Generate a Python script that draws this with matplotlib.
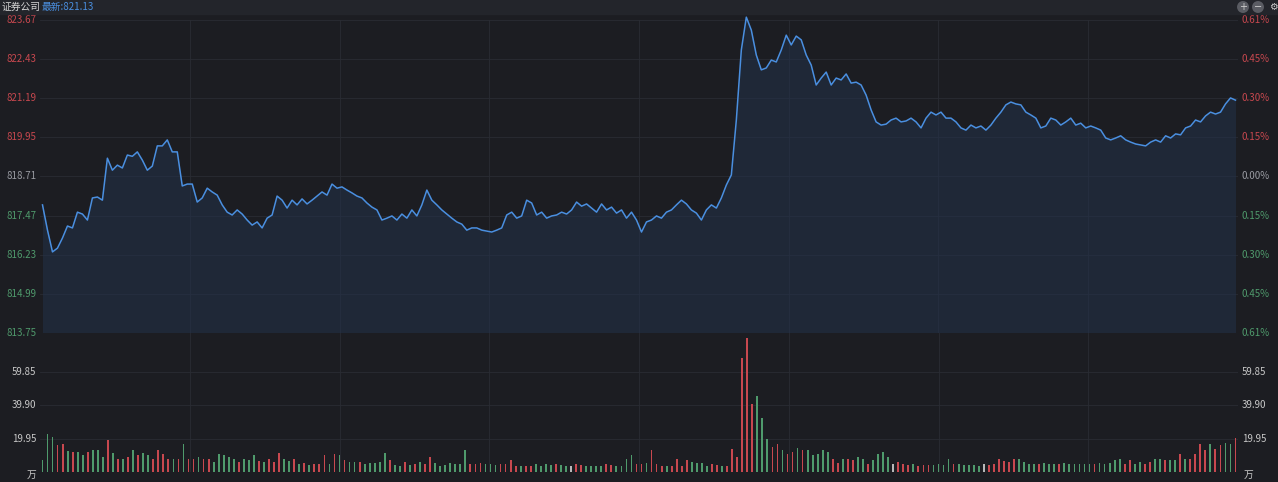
import numpy as np
import matplotlib
matplotlib.use('Agg')
import matplotlib.pyplot as plt

plt.rcParams['font.family'] = ['Noto Sans CJK SC', 'DejaVu Sans']

# ─── data ───
title = '证券公司'
latest = '最新:821.13'
prev_close = 818.71
price_ticks = [823.67, 822.43, 821.19, 819.95, 818.71, 817.47, 816.23, 814.99, 813.75]
pct_labels = ['0.61%', '0.45%', '0.30%', '0.15%', '0.00%', '0.15%', '0.30%', '0.45%', '0.61%']
vol_ticks = [19.95, 39.90, 59.85]

price = [
    817.81, 817.01, 816.32, 816.44, 816.76, 817.14, 817.08, 817.58, 817.52, 817.33,
    818.03, 818.06, 817.96, 819.29, 818.91, 819.07, 818.98, 819.39, 819.35, 819.49,
    819.23, 818.91, 819.04, 819.68, 819.68, 819.87, 819.49, 819.49, 818.41, 818.47,
    818.47, 817.90, 818.03, 818.34, 818.22, 818.12, 817.81, 817.58, 817.49, 817.65,
    817.52, 817.33, 817.17, 817.27, 817.08, 817.39, 817.49, 818.09, 817.96, 817.71,
    817.96, 817.81, 818.00, 817.84, 817.96, 818.09, 818.22, 818.12, 818.47, 818.34,
    818.38, 818.28, 818.19, 818.09, 818.03, 817.87, 817.74, 817.65, 817.33, 817.39,
    817.46, 817.33, 817.52, 817.39, 817.65, 817.46, 817.81, 818.28, 817.96, 817.81,
    817.65, 817.52, 817.39, 817.27, 817.20, 817.01, 817.08, 817.08, 817.01, 816.98,
    816.95, 817.01, 817.08, 817.49, 817.58, 817.39, 817.46, 817.96, 817.87, 817.49,
    817.58, 817.39, 817.46, 817.49, 817.58, 817.52, 817.65, 817.90, 817.77, 817.84,
    817.71, 817.58, 817.84, 817.65, 817.74, 817.55, 817.65, 817.39, 817.58, 817.33,
    816.95, 817.27, 817.33, 817.46, 817.39, 817.58, 817.65, 817.81, 817.96, 817.84,
    817.65, 817.55, 817.33, 817.65, 817.81, 817.71, 818.03, 818.44, 818.76, 820.50,
    822.72, 823.76, 823.35, 822.56, 822.09, 822.15, 822.40, 822.34, 822.72, 823.19,
    822.88, 823.16, 823.04, 822.56, 822.24, 821.61, 821.83, 822.02, 821.61, 821.83,
    821.77, 821.96, 821.67, 821.70, 821.61, 821.29, 820.82, 820.44, 820.34, 820.37,
    820.50, 820.56, 820.44, 820.47, 820.56, 820.44, 820.25, 820.56, 820.75, 820.66,
    820.75, 820.56, 820.56, 820.44, 820.25, 820.18, 820.34, 820.25, 820.31, 820.18,
    820.34, 820.56, 820.75, 820.98, 821.07, 821.01, 820.98, 820.75, 820.66, 820.56,
    820.25, 820.31, 820.56, 820.50, 820.34, 820.44, 820.56, 820.34, 820.40, 820.25,
    820.31, 820.25, 820.18, 819.93, 819.87, 819.93, 820.00, 819.87, 819.80, 819.74,
    819.71, 819.68, 819.80, 819.87, 819.80, 820.00, 819.93, 820.06, 820.03, 820.25,
    820.31, 820.50, 820.44, 820.63, 820.75, 820.69, 820.75, 821.01, 821.20, 821.13,
]

volume = [
    7, 23, 21, 16, 17, 12.5, 12, 12, 10, 12, 13, 13, 9, 19, 11.5, 7.5, 8, 9, 13, 10,
    11.5, 10, 8, 13, 11, 7.5, 8, 7.5, 17, 8, 8, 9, 8, 7.5, 6, 11, 10, 9, 7.5, 6,
    8, 7, 10, 6.5, 6, 8, 6, 11.5, 7.5, 6.5, 7.5, 4.5, 5.5, 4, 4.5, 5, 10, 4.5, 11, 10,
    7, 6, 6, 6, 4.5, 5.5, 5.5, 6, 11.5, 7, 4, 3.7, 6, 4, 4.5, 6, 4.5, 9, 5.5, 3.7,
    4, 5.5, 4.5, 5, 13, 4.5, 4.5, 5.5, 4.5, 4.5, 4, 4.5, 4.5, 7, 3.7, 3.7, 3.3, 3.7, 4.5, 3.7,
    4.5, 4, 4.5, 4, 3.7, 3.7, 4.5, 4, 3.3, 3.3, 3.3, 3.3, 4.5, 4, 3.3, 3.3, 8, 10, 4.5, 4.5,
    5.5, 13, 4.5, 3.7, 3.3, 3.3, 8, 3.3, 7, 6, 5.5, 5.5, 3.7, 5, 4, 3.7, 3.3, 14, 9, 68,
    80, 41, 45.5, 32.5, 20, 15, 16.5, 13, 11, 12, 14.5, 13, 13, 10, 11, 13, 12, 8, 5.5, 8,
    8, 7, 9, 7.5, 5, 7, 11, 12, 9, 4.5, 6, 5, 4, 4.5, 3.7, 4, 4, 4, 5, 4,
    7.5, 4.5, 4.5, 4, 4, 4, 3.7, 5, 4, 5, 7.5, 6.5, 6, 8, 8, 6, 4.5, 4.5, 4.5, 5.5,
    4.5, 4.5, 4.5, 5.5, 4.5, 4.5, 4.5, 4.5, 4.5, 4.5, 5.5, 4.5, 5.5, 7, 8, 5, 7, 5, 6, 5,
    6, 7.5, 7.5, 7, 7, 7, 11, 8, 8, 11, 17, 13, 16.5, 14, 16, 17.5, 17, 20.5,
]
# r = up bar, g = down bar, w = flat bar
vol_color = (
    'gggrrgrggrgggrgrgrgr'
    'ggrrrrgrgrrgrrgggggr'
    'gggrgrrrggrgrgrrrgrg'
    'rggrgggggrggrgrgrrgg'
    'gggggrrrgggrrrrgrrgg'
    'ggrggwrrggggrrggggrr'
    'grrrgrrrrggggrrgrrrr'
    'rrgggrrgrrgrgggggrrg'
    'rrggrggggwrrrgrrrggg'
    'grgggggwrrrrrrggggrg'
    'ggrggggggrgggggrrggr'
    'rggrggrgrrrrgrrggr'
)

# ─── style ───
BG = '#1c1d22'
GRID = '#2a2c33'
RED = '#c8484f'
GREEN = '#4f9a6c'
GREY = '#9a9ca3'
LINE = '#4a8fe0'
cmap = {'r': RED, 'g': GREEN, 'w': '#b8b8b8'}

W, H = 1278, 482
fig = plt.figure(figsize=(W / 100, H / 100), dpi=100, facecolor=BG)

def box(x0, y0, x1, y1):
    return [x0 / W, 1 - y1 / H, (x1 - x0) / W, (y1 - y0) / H]

# header strip
fig.patches.append(plt.Rectangle((0, 1 - 14 / H), 1, 14 / H, transform=fig.transFigure,
                                 color='#23252b', zorder=0))
fig.text(2 / W, 1 - 7 / H, title, color='#d8d8d8', fontsize=7, va='center')
fig.text(42 / W, 1 - 7 / H, latest, color=LINE, fontsize=7, va='center')
for i, sym in enumerate(['+', '−', '⚙']):
    fig.text((1243 + i * 15) / W, 1 - 7 / H, sym, color='#cfcfcf', fontsize=7,
             va='center', ha='center', family=['DejaVu Sans'],
             bbox=dict(boxstyle='circle,pad=0.1', fc='#5a5c63', ec='none') if i < 2 else None)

# ─── price panel ───
ax = fig.add_axes(box(40, 20, 1238, 333))
ax.set_facecolor(BG)
n = len(price)
x = np.arange(n)
ax.set_xlim(-0.5, n - 0.5)
ax.set_ylim(price_ticks[-1], price_ticks[0])
ax.fill_between(x, price, price_ticks[-1], color='#22324a', alpha=0.55, lw=0)
ax.plot(x, price, color=LINE, lw=1.1, clip_on=False)
for t in price_ticks:
    ax.axhline(t, color=GRID, lw=0.6, zorder=0)
for k in range(1, 8):
    ax.axvline(-0.5 + n * k / 8, color=GRID, lw=0.6, zorder=0)
ax.set_xticks([])
ax.set_yticks([])
for s in ax.spines.values():
    s.set_visible(False)
for t, p in zip(price_ticks, pct_labels):
    c = RED if t > prev_close + 0.01 else (GREEN if t < prev_close - 0.01 else GREY)
    ax.text(-0.003, t, f'{t:.2f}', transform=ax.get_yaxis_transform(), ha='right',
            va='center', fontsize=7, color=c)
    ax.text(1.003, t, p, transform=ax.get_yaxis_transform(), ha='left',
            va='center', fontsize=7, color=c)

# ─── volume panel ───
av = fig.add_axes(box(40, 333, 1238, 472))
av.set_facecolor(BG)
m = len(volume)
av.set_xlim(-0.5, m - 0.5)
av.set_ylim(0, 83.2)
cols = [cmap[vol_color[i]] if i < len(vol_color) else GREEN for i in range(m)]
av.bar(np.arange(m), volume, width=0.35, color=cols)
for t in vol_ticks:
    av.axhline(t, color=GRID, lw=0.6, zorder=0)
    av.text(-0.003, t, f'{t:.2f}', transform=av.get_yaxis_transform(), ha='right',
            va='center', fontsize=7, color='#c8c8c8')
    av.text(1.003, t, f'{t:.2f}', transform=av.get_yaxis_transform(), ha='left',
            va='center', fontsize=7, color='#c8c8c8')
for k in range(1, 8):
    av.axvline(-0.5 + m * k / 8, color=GRID, lw=0.6, zorder=0)
av.text(-0.003, -2, '万', transform=av.get_yaxis_transform(), ha='right',
        va='center', fontsize=7, color='#c8c8c8')
av.text(1.005, -2, '万', transform=av.get_yaxis_transform(), ha='left',
        va='center', fontsize=7, color='#c8c8c8')
av.set_xticks([])
av.set_yticks([])
for s in av.spines.values():
    s.set_visible(False)

fig.savefig('out.png', dpi=100, facecolor=BG)
